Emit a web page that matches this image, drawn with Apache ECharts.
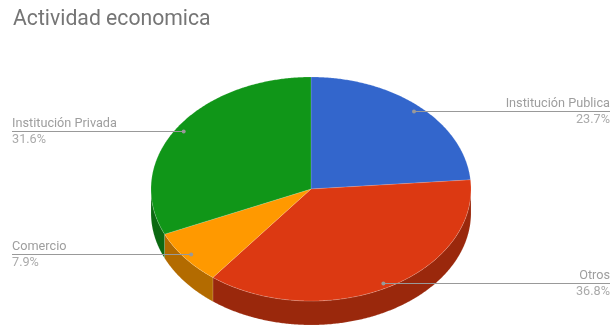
<!DOCTYPE html>
<html>
<head>
<meta charset="utf-8">
<style>html,body{margin:0;padding:0;background:#fff}#chart{width:610px;height:326px}</style>
<script src="https://cdn.jsdelivr.net/npm/echarts@6/dist/echarts.min.js"></script>
</head>
<body>
<div id="chart"></div>
<script>
// Slices in clockwise order starting at twelve o'clock
const categories = ['Institución Publica', 'Otros', 'Comercio', 'Institución Privada'];
const shares = [23.7, 36.8, 7.9, 31.6];
const topColors = ['#3366cc', '#dc3912', '#ff9900', '#109618'];
const wallColors = ['#24478f', '#9a280c', '#b36b00', '#0b6911'];

// Tilted disc geometry
const cx = 311, cy = 189, rx = 160, ry = 112, depth = 24;
const anchorRatio = 0.95;
const leftEdge = 12, rightEdge = 610;

const total = shares.reduce((a, b) => a + b, 0);
const starts = shares.map((_, i) => shares.slice(0, i).reduce((a, b) => a + b, 0));
const rad = d => d * Math.PI / 180;
const toDeg = s => s / total * 360;
const rimPoint = (deg, r, dy) => [cx + rx * r * Math.sin(rad(deg)), cy + dy - ry * r * Math.cos(rad(deg))];

function arc(from, to, dy) {
  const pts = [];
  const n = Math.max(2, Math.ceil(Math.abs(to - from) * 2));
  for (let k = 0; k <= n; k++) pts.push(rimPoint(from + (to - from) * k / n, 1, dy));
  return pts;
}

function renderSlice(params, api) {
  const a0 = toDeg(api.value(1));
  const a1 = a0 + toDeg(api.value(0));
  const children = [];
  // The rim is only visible on the near half of the disc
  const w0 = Math.max(a0, 90), w1 = Math.min(a1, 270);
  if (w1 > w0) {
    children.push({
      type: 'polygon',
      shape: { points: arc(w0, w1, 0).concat(arc(w1, w0, depth)) },
      style: { fill: wallColors[params.dataIndex], stroke: 'rgba(255,255,255,0.25)', lineWidth: 0.5 }
    });
  }
  children.push({
    type: 'polygon',
    shape: { points: [[cx, cy]].concat(arc(a0, a1, 0)) },
    style: { fill: topColors[params.dataIndex], stroke: 'rgba(255,255,255,0.3)', lineWidth: 0.5 }
  });
  return { type: 'group', children };
}

function renderCallout(params, api) {
  const mid = toDeg(api.value(1) + api.value(0) / 2);
  const [x, y] = rimPoint(mid, anchorRatio, 0);
  const onRight = mid < 180;
  const end = onRight ? rightEdge : leftEdge;
  const textStyle = (text, color) => ({
    text, fill: color, font: '12.7px Roboto',
    x: end, align: onRight ? 'right' : 'left'
  });
  return {
    type: 'group',
    children: [
      { type: 'line', shape: { x1: x, y1: Math.round(y) + 0.5, x2: end, y2: Math.round(y) + 0.5 },
        style: { stroke: '#999999', lineWidth: 1 } },
      { type: 'circle', shape: { cx: x, cy: Math.round(y) + 0.5, r: 2 }, style: { fill: '#999999' } },
      { type: 'text', style: Object.assign(textStyle(categories[params.dataIndex], '#9e9e9e'),
          { y: Math.round(y) - 1, verticalAlign: 'bottom' }) },
      { type: 'text', style: Object.assign(textStyle(api.value(0).toFixed(1) + '%', '#aaaaaa'),
          { y: Math.round(y) + 2, verticalAlign: 'top' }) }
    ]
  };
}

const rows = shares.map((v, i) => [v, starts[i]]);
const chart = echarts.init(document.getElementById('chart'), null, { renderer: 'canvas' });
chart.setOption({
  animation: false,
  backgroundColor: '#ffffff',
  title: {
    text: 'Actividad economica', left: 8, top: 4,
    textStyle: { color: '#757575', fontFamily: 'Roboto', fontSize: 21.2, fontWeight: 'normal' }
  },
  series: [
    { type: 'custom', coordinateSystem: 'none', renderItem: renderSlice, data: rows, silent: true },
    { type: 'custom', coordinateSystem: 'none', renderItem: renderCallout, data: rows, silent: true, z: 3 }
  ]
});
</script>
</body>
</html>
